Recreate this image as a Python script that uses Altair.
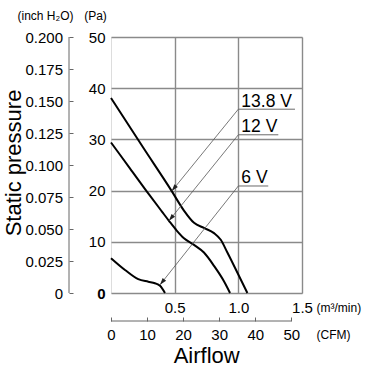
import math

import altair as alt
import pandas as pd

# Fan performance curves: static pressure (Pa) against airflow (m3/min)
SERIES = ["13.8 V", "12 V", "6 V"]

FLOW_138 = [0.0, 0.25, 0.477, 0.573, 0.652, 0.730, 0.809, 0.862, 0.914, 0.992, 1.071]
PA_138 = [38.1, 28.5, 19.9, 16.1, 13.7, 12.7, 11.7, 10.4, 7.9, 4.0, 0.0]

FLOW_12 = [0.0, 0.15, 0.30, 0.40, 0.455, 0.516, 0.573, 0.652, 0.730, 0.809, 0.887, 0.935]
PA_12 = [29.4, 24.3, 19.2, 15.9, 14.1, 12.2, 10.7, 9.4, 7.9, 5.3, 2.3, 0.0]

FLOW_6 = [0.0, 0.110, 0.214, 0.293, 0.345, 0.385, 0.424]
PA_6 = [6.8, 4.5, 2.7, 2.2, 1.9, 1.4, 0.0]

# Callouts: underline starts on the 1.0 m3/min gridline, arrow ends on the curve
LABEL_FLOW = [1.0, 1.0, 1.0]
LABEL_PA = [35.9, 30.9, 20.9]
LABEL_END = [1.445, 1.314, 1.235]
TIP_FLOW = [0.477, 0.455, 0.385]
TIP_PA = [19.9, 14.1, 1.6]

# Axes
FLOW_DOMAIN = [0, 1.5]
PA_DOMAIN = [0, 50]
INCH_DOMAIN = [0, 0.2]
FLOW_TICKS = [0.5, 1.0, 1.5]
PA_TICKS = [0, 10, 20, 30, 40, 50]
INCH_TICKS = [0, 0.025, 0.05, 0.075, 0.1, 0.125, 0.15, 0.175, 0.2]
CFM_TICKS = [0, 10, 20, 30, 40, 50]
CFM_PER_M3 = 35.315

W, H = 191, 256

SANS = "Liberation Sans, Arial, Helvetica, sans-serif"
TICK_SIZE = 15
GRID = "#8a8a8a"
FRAME = "#707070"
AXIS_GREY = "#666666"

rows = []
for name, xs, ys in [("13.8 V", FLOW_138, PA_138), ("12 V", FLOW_12, PA_12), ("6 V", FLOW_6, PA_6)]:
    for i, (a, b) in enumerate(zip(xs, ys)):
        rows.append({"series": name, "order": i, "flow": a, "pa": b})
curve_df = pd.DataFrame(rows)

# arrowhead rotation follows the leader direction in screen space
angles = []
for lx, ly, tx, ty in zip(LABEL_FLOW, LABEL_PA, TIP_FLOW, TIP_PA):
    dx = (tx - lx) * W / (FLOW_DOMAIN[1] - FLOW_DOMAIN[0])
    dy = -(ty - ly) * H / (PA_DOMAIN[1] - PA_DOMAIN[0])
    angles.append(math.degrees(math.atan2(dx, -dy)) % 360)

callout_df = pd.DataFrame({
    "series": SERIES,
    "lx": LABEL_FLOW,
    "ly": LABEL_PA,
    "lend": LABEL_END,
    "tx": TIP_FLOW,
    "ty": TIP_PA,
    "angle": angles,
})


def sx(field, axis=None):
    return alt.X(field, type="quantitative",
                 scale=alt.Scale(domain=FLOW_DOMAIN, nice=False, zero=False), axis=axis)


def sy(field, axis=None):
    return alt.Y(field, type="quantitative",
                 scale=alt.Scale(domain=PA_DOMAIN, nice=False, zero=False), axis=axis)


flow_axis = alt.Axis(
    values=FLOW_TICKS, format=".1f", grid=True, gridColor=GRID, gridWidth=1.4,
    ticks=False, tickSize=0, domain=False, labelPadding=7, labelFont=SANS,
    labelFontSize=TICK_SIZE, labelColor="black", labelFlush=False, labelOverlap=False,
    title="(m³/min)", titleX=205, titleY=14.7, titleAlign="left",
    titleBaseline="middle", titleFont=SANS, titleFontSize=12,
    titleFontWeight="normal", titleColor="black",
)
pa_axis = alt.Axis(
    values=PA_TICKS, grid=True, gridColor=GRID, gridWidth=1.4,
    ticks=False, tickSize=0, domain=False, labelPadding=6, labelFont=SANS,
    labelFontSize=TICK_SIZE, labelColor="black", labelFlush=False, labelOverlap=False,
    labelFontWeight={"condition": {"test": "datum.value === 0", "value": "bold"}, "value": "normal"},
    title="(Pa)", titleAngle=0, titleX=-16, titleY=-21.5, titleAlign="center",
    titleBaseline="middle", titleFont=SANS, titleFontSize=12,
    titleFontWeight="normal", titleColor="black",
)

curves = alt.Chart(curve_df).mark_line(
    color="black", strokeWidth=2, interpolate="monotone"
).encode(
    x=sx("flow", flow_axis),
    y=sy("pa", pa_axis),
    detail="series:N",
    order="order:Q",
)

leaders = alt.Chart(callout_df).mark_rule(color="#555555", strokeWidth=0.8).encode(
    x=sx("lx"), y=sy("ly"), x2="tx", y2="ty"
)

underlines = alt.Chart(callout_df).mark_rule(color="#6a6a6a", strokeWidth=1).encode(
    x=sx("lx"), x2="lend", y=sy("ly")
)

labels = alt.Chart(callout_df).mark_text(
    align="left", baseline="alphabetic", dx=3, dy=-2.5,
    font=SANS, fontSize=17.5, color="black",
).encode(x=sx("lx"), y=sy("ly"), text="series:N")

arrows = alt.Chart(callout_df).mark_point(
    shape="M0,0L0.32,1L-0.32,1Z", filled=True, size=196, opacity=1,
    color="#222222", strokeWidth=0,
).encode(x=sx("tx"), y=sy("ty"), angle=alt.Angle("angle:Q", scale=None))

# secondary pressure axis in inches of water, ticks pointing into the chart
inch_df = pd.DataFrame({"lo": [INCH_TICKS[0]], "hi": [INCH_TICKS[-1]]})
inch = alt.Chart(inch_df).mark_rule(color=AXIS_GREY, strokeWidth=1).encode(
    x=alt.value(-42),
    y=alt.Y("lo:Q", scale=alt.Scale(domain=INCH_DOMAIN, nice=False), axis=alt.Axis(
        orient="left", offset=38, values=INCH_TICKS, grid=False, domain=False,
        ticks=True, tickSize=4, tickColor=AXIS_GREY, tickWidth=1,
        labelPadding=6.5, labelFont=SANS, labelFontSize=TICK_SIZE, labelColor="black",
        labelFlush=False, labelOverlap=False,
        labelExpr="datum.value == 0 ? '0' : format(datum.value, '.3f')",
        title="(inch H₂O)", titleAngle=0, titleX=-28, titleY=-21.5,
        titleAlign="center", titleBaseline="middle", titleFont=SANS,
        titleFontSize=12, titleFontWeight="normal", titleColor="black",
    )),
    y2="hi",
)

# secondary airflow axis in CFM below the chart
cfm_df = pd.DataFrame({"lo": [CFM_TICKS[0]], "hi": [CFM_TICKS[-1]]})
cfm = alt.Chart(cfm_df).mark_rule(color=AXIS_GREY, strokeWidth=1).encode(
    x=alt.X("lo:Q", scale=alt.Scale(domain=[0, FLOW_DOMAIN[1] * CFM_PER_M3], nice=False),
            axis=alt.Axis(
                orient="bottom", offset=24, values=CFM_TICKS, grid=False, domain=False,
                ticks=True, tickSize=4, tickColor=AXIS_GREY, tickWidth=1,
                labelPadding=6, labelFont=SANS, labelFontSize=TICK_SIZE, labelColor="black",
                labelFlush=False, labelOverlap=False,
                title="(CFM)", titleX=205, titleY=17.5, titleAlign="left",
                titleBaseline="middle", titleFont=SANS, titleFontSize=12,
                titleFontWeight="normal", titleColor="black",
            )),
    x2="hi",
    y=alt.value(H + 28),
)

static_title = alt.Chart(pd.DataFrame({"t": ["Static pressure"]})).mark_text(
    angle=270, align="center", baseline="alphabetic", font=SANS, fontSize=22, color="black"
).encode(text="t:N", x=alt.value(-90.5), y=alt.value(126))

airflow_title = alt.Chart(pd.DataFrame({"t": ["Airflow"]})).mark_text(
    align="center", baseline="alphabetic", font=SANS, fontSize=22, color="black"
).encode(text="t:N", x=alt.value(95.7), y=alt.value(326))

chart = alt.layer(
    curves, leaders, underlines, labels, arrows, inch, cfm, static_title, airflow_title
).resolve_scale(
    x="independent", y="independent"
).properties(
    width=W, height=H,
    autosize=alt.AutoSizeParams(type="none"),
    padding={"left": 111, "top": 37, "right": 66, "bottom": 89},
).configure_view(
    stroke=FRAME, strokeWidth=1.4
).configure(background="white")

chart.save("out.html", embed_options={"renderer": "svg", "actions": False})
